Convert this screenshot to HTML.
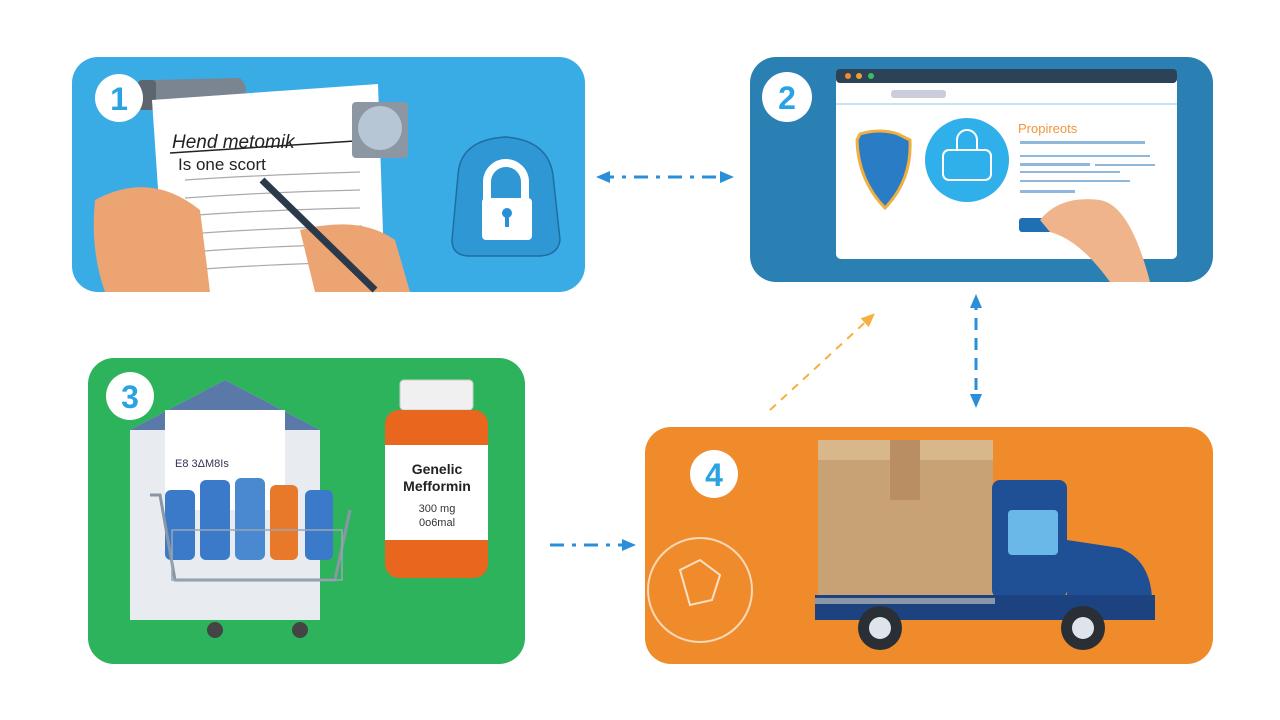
<!DOCTYPE html>
<html><head><meta charset="utf-8"><style>
html,body{margin:0;padding:0;background:#fff;width:1280px;height:720px;overflow:hidden}
svg{display:block}
text{font-family:"Liberation Sans",sans-serif}
</style></head><body>
<svg width="1280" height="720" viewBox="0 0 1280 720" xmlns="http://www.w3.org/2000/svg">
<defs>
<marker id="ab" markerUnits="userSpaceOnUse" markerWidth="14" markerHeight="12" refX="10" refY="6" orient="auto-start-reverse"><path d="M0,0 L14,6 L0,12 z" fill="#2a8fd8"/></marker>
<marker id="ao" markerUnits="userSpaceOnUse" markerWidth="14" markerHeight="12" refX="10" refY="6" orient="auto"><path d="M0,0 L14,6 L0,12 z" fill="#f5b040"/></marker>
</defs>
<!-- Panel 1 -->
<rect x="72" y="57" width="513" height="235" rx="26" fill="#39ace6"/>
<path d="M150 80 L240 78 Q252 90 240 102 L150 108 Z" fill="#7a8591"/>
<rect x="138" y="80" width="18" height="30" rx="4" fill="#5d6670"/>
<path d="M152 100 L378 84 L385 292 L165 292 Z" fill="#fff"/>
<text x="172" y="148" font-size="19" fill="#222" font-style="italic">Hend metomik</text>
<line x1="170" y1="153" x2="355" y2="141" stroke="#222" stroke-width="1.5"/>
<text x="178" y="170" font-size="17" fill="#222">Is one scort</text>
<g stroke="#aaa" stroke-width="1.2" fill="none">
<path d="M185 180 Q260 175 360 172"/><path d="M185 198 Q270 192 360 190"/><path d="M185 216 Q260 210 360 208"/><path d="M188 234 Q270 228 362 226"/><path d="M190 252 Q270 246 362 244"/><path d="M190 270 Q270 264 362 262"/>
</g>
<rect x="352" y="102" width="56" height="56" rx="4" fill="#8c97a3"/>
<circle cx="380" cy="128" r="22" fill="#b7c6d4"/>
<path d="M95 200 Q150 170 200 210 L210 292 L105 292 Q90 250 95 200Z" fill="#eca473"/>
<path d="M300 230 Q360 215 395 240 L410 292 L315 292 Z" fill="#eca473"/>
<line x1="262" y1="180" x2="375" y2="290" stroke="#2b3a4b" stroke-width="7"/>
<path d="M458 175 Q460 140 505 137 Q548 140 553 175 L560 240 Q558 255 540 256 L468 256 Q452 255 452 240 Z" fill="#2f97d4" stroke="#1f6ea0" stroke-width="1.5"/>
<path d="M487 200 v-18 a19 19 0 0 1 38 0 v18" fill="none" stroke="#fff" stroke-width="8"/>
<rect x="482" y="198" width="50" height="42" rx="4" fill="#fff"/>
<circle cx="507" cy="213" r="5" fill="#2a8fd8"/><rect x="505" y="215" width="4" height="12" fill="#2a8fd8"/>
<circle cx="119" cy="98" r="24" fill="#fff"/><text x="119" y="110" font-size="32" font-weight="bold" fill="#2aa3e3" text-anchor="middle">1</text>
<!-- Panel 2 -->
<rect x="750" y="57" width="463" height="225" rx="26" fill="#2a80b3"/>
<rect x="836" y="69" width="341" height="190" rx="5" fill="#fff"/>
<rect x="836" y="69" width="341" height="14" rx="4" fill="#2c4257"/>
<circle cx="848" cy="76" r="3" fill="#f08a30"/><circle cx="859" cy="76" r="3" fill="#f0a030"/><circle cx="871" cy="76" r="3" fill="#3bc05a"/>
<rect x="891" y="90" width="55" height="8" rx="3" fill="#ccd"/>
<line x1="836" y1="104" x2="1177" y2="104" stroke="#8cc4ea"/>
<path d="M860 134 Q880 128 898 134 L910 140 Q912 180 885 208 Q858 180 857 140 Z" fill="#2a7cc4" stroke="#f0b040" stroke-width="3"/>
<circle cx="967" cy="160" r="42" fill="#2fb0ea"/>
<path d="M957 150 v-10 a10 10 0 0 1 20 0 v10" fill="none" stroke="#fff" stroke-width="2"/>
<rect x="943" y="150" width="48" height="30" rx="6" fill="none" stroke="#fff" stroke-width="2"/>
<text x="1018" y="133" font-size="13" fill="#f0963a">Propireots</text>
<g fill="#8fb8da"><rect x="1020" y="141" width="125" height="3"/><rect x="1020" y="155" width="130" height="2"/><rect x="1020" y="163" width="70" height="3"/><rect x="1095" y="164" width="60" height="2"/><rect x="1020" y="171" width="100" height="2"/><rect x="1020" y="180" width="110" height="2"/><rect x="1020" y="190" width="55" height="3"/></g>
<rect x="1019" y="218" width="52" height="14" rx="3" fill="#1f6fb5"/>
<path d="M1040 220 Q1060 195 1100 200 Q1130 205 1150 282 L1110 282 Q1080 240 1050 232 Z" fill="#f0b48c"/>
<circle cx="787" cy="97" r="25" fill="#fff"/><text x="787" y="109" font-size="32" font-weight="bold" fill="#2aa3e3" text-anchor="middle">2</text>
<!-- Panel 3 -->
<rect x="88" y="358" width="437" height="306" rx="26" fill="#2db35c"/>
<path d="M130 430 L225 380 L320 430 L320 620 L130 620 Z" fill="#e8ecf0"/>
<path d="M130 430 L225 380 L320 430 Z" fill="#5a78a8"/>
<rect x="165" y="410" width="120" height="100" fill="#fff"/>
<text x="175" y="467" font-size="11" fill="#335">E8 3ΔM8Is</text>
<g fill="#3a7ac8"><rect x="200" y="480" width="30" height="80" rx="6"/><rect x="270" y="485" width="28" height="75" rx="6" fill="#e8782a"/><rect x="305" y="490" width="28" height="70" rx="6"/><rect x="235" y="478" width="30" height="82" rx="6" fill="#4a88d0"/><rect x="165" y="490" width="30" height="70" rx="6"/></g>
<path d="M150 495 L160 495 L175 580 L335 580 L350 510" fill="none" stroke="#8a96a6" stroke-width="3"/>
<rect x="172" y="530" width="170" height="50" fill="none" stroke="#9aa6b6" stroke-width="1.5"/>
<circle cx="215" cy="630" r="8" fill="#444"/><circle cx="300" cy="630" r="8" fill="#444"/>
<rect x="400" y="380" width="73" height="30" rx="4" fill="#f0f0f0" stroke="#ccc"/>
<rect x="385" y="410" width="103" height="168" rx="14" fill="#e8661e"/>
<rect x="385" y="445" width="103" height="95" fill="#fff"/>
<text x="437" y="474" font-size="14" font-weight="bold" fill="#222" text-anchor="middle">Genelic</text>
<text x="437" y="491" font-size="14" font-weight="bold" fill="#222" text-anchor="middle">Mefformin</text>
<text x="437" y="512" font-size="11" fill="#333" text-anchor="middle">300 mg</text>
<text x="437" y="526" font-size="11" fill="#333" text-anchor="middle">0o6mal</text>
<circle cx="130" cy="396" r="24" fill="#fff"/><text x="130" y="408" font-size="32" font-weight="bold" fill="#2aa3e3" text-anchor="middle">3</text>
<!-- Panel 4 -->
<rect x="645" y="427" width="568" height="237" rx="26" fill="#f08b2c"/>
<circle cx="700" cy="590" r="52" fill="none" stroke="#fbd8b8" stroke-width="2"/>
<path d="M680 570 L700 560 L720 575 L712 600 L690 605 Z" fill="none" stroke="#fbe0c8" stroke-width="2"/>
<rect x="818" y="440" width="175" height="155" fill="#c8a275"/>
<rect x="818" y="440" width="175" height="20" fill="#d8b88a"/>
<rect x="890" y="440" width="30" height="60" fill="#b88e62"/>
<rect x="992" y="480" width="75" height="118" rx="8" fill="#1f4f95"/>
<rect x="1008" y="510" width="50" height="45" rx="4" fill="#6ab8e8"/>
<path d="M1067 540 L1120 548 Q1150 560 1152 598 L1067 598 Z" fill="#1f4f95"/>
<rect x="815" y="595" width="340" height="25" fill="#1c4380"/>
<rect x="815" y="598" width="180" height="6" fill="#8a97a8"/>
<circle cx="880" cy="628" r="22" fill="#2a2f36"/><circle cx="880" cy="628" r="11" fill="#dfe4ea"/>
<circle cx="1083" cy="628" r="22" fill="#2a2f36"/><circle cx="1083" cy="628" r="11" fill="#dfe4ea"/>
<circle cx="714" cy="474" r="24" fill="#fff"/><text x="714" y="486" font-size="32" font-weight="bold" fill="#2aa3e3" text-anchor="middle">4</text>
<!-- Connectors -->
<line x1="600" y1="177" x2="730" y2="177" stroke="#2a8fd8" stroke-width="3" stroke-dasharray="14,8,4,8" marker-start="url(#ab)" marker-end="url(#ab)"/>
<line x1="976" y1="298" x2="976" y2="404" stroke="#2a8fd8" stroke-width="3" stroke-dasharray="12,8" marker-start="url(#ab)" marker-end="url(#ab)"/>
<line x1="770" y1="410" x2="872" y2="316" stroke="#f5b040" stroke-width="2" stroke-dasharray="8,7" marker-end="url(#ao)"/>
<line x1="550" y1="545" x2="632" y2="545" stroke="#2a8fd8" stroke-width="3" stroke-dasharray="14,8,4,8" marker-end="url(#ab)"/>
</svg>
</body></html>
